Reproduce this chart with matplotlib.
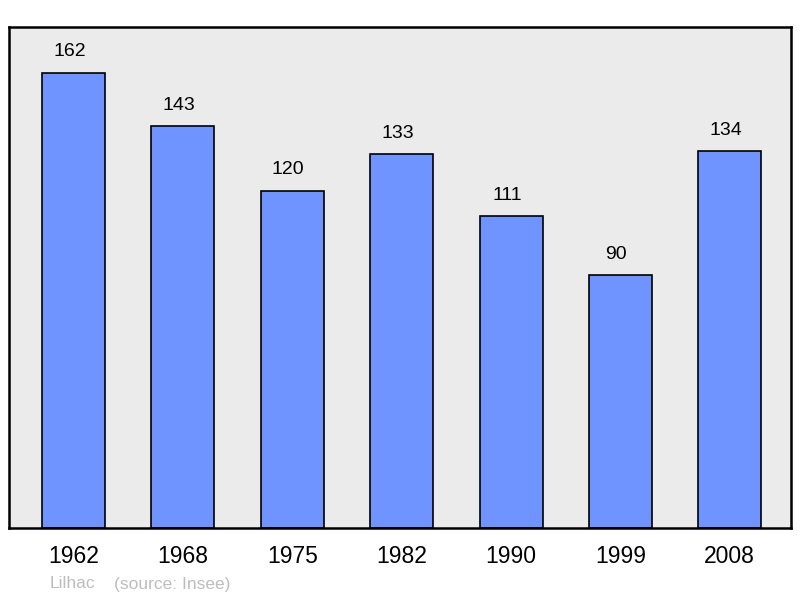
import matplotlib.pyplot as plt

years = ["1962", "1968", "1975", "1982", "1990", "1999", "2008"]
population = [162, 143, 120, 133, 111, 90, 134]

plt.rcParams['font.family'] = ['Liberation Sans', 'DejaVu Sans']

fig = plt.figure(figsize=(8, 5.98), dpi=100)
ax = fig.add_axes([9/800, 70/598, 782/800, 501/598])
ax.set_facecolor("#ebebeb")

x = list(range(len(years)))
ax.bar(x, population, width=0.576, color="#7094ff", edgecolor="black", linewidth=1.2)

# value labels above each bar
for xi, v in zip(x, population):
    ax.annotate(str(v), (xi, v), xytext=(-3, 9), textcoords="offset points",
                ha="center", va="bottom", fontsize=14)

ax.set_xlim(-0.59, 6.56)
ax.set_ylim(0, 178.3)
ax.set_yticks([])
ax.set_xticks(x)
ax.set_xticklabels(years, fontsize=16.5)
ax.tick_params(axis="x", length=0, pad=12)
for s in ax.spines.values():
    s.set_linewidth(1.8)

fig.text(50/800, 1 - 584/598, "Lilhac", color="#bdbdbd", fontsize=12.5, va="center")
fig.text(114/800, 1 - 584/598, "(source: Insee)", color="#bdbdbd", fontsize=12.5, va="center")

fig.savefig("out.png", dpi=100)
